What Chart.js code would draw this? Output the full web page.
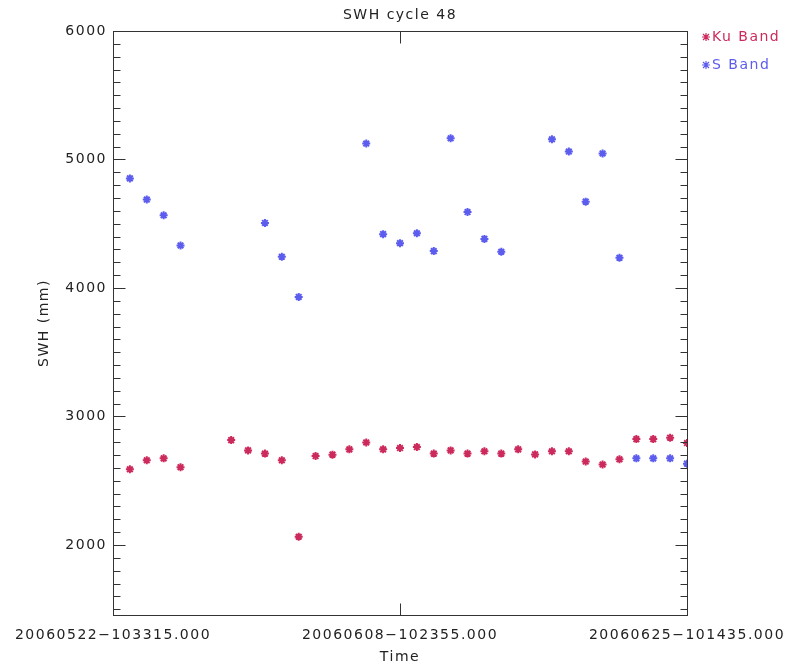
<!DOCTYPE html>
<html>
<head>
<meta charset="utf-8">
<script src="https://cdn.jsdelivr.net/npm/chart.js@4/dist/chart.umd.min.js"></script>
<style>
  html, body { margin: 0; padding: 0; background: #fff; }
  #wrap { width: 791px; height: 666px; }
</style>
</head>
<body>
<div id="wrap"><canvas id="grafico" width="791" height="666"></canvas></div>
<script>
// days since 20060522-103315
const kuDays = [1, 2, 3, 4, 7, 8, 9, 10, 11, 12, 13, 14, 15, 16, 17, 18, 19, 20, 21, 22, 23, 24, 25, 26, 27, 28, 29, 30, 31, 32, 33, 34];
const kuSwh  = [2589, 2659, 2674, 2605, 2816, 2736, 2711, 2659, 2064, 2692, 2703, 2744, 2798, 2744, 2754, 2762,
                2711, 2736, 2711, 2729, 2711, 2744, 2705, 2729, 2729, 2649, 2626, 2667, 2824, 2824, 2835, 2793];
const sDays  = [1, 2, 3, 4, 9, 10, 11, 15, 16, 17, 18, 19, 20, 21, 22, 23, 26, 27, 28, 29, 30, 31, 32, 33, 34];
const sSwh   = [4853, 4688, 4566, 4331, 4506, 4243, 3930, 5124, 4419, 4349, 4426, 4287, 5165, 4591, 4382, 4282,
                5157, 5062, 4672, 5047, 4235, 2674, 2674, 2674, 2633];
const timeTicks  = [0, 17, 34];
const timeLabels = ['20060522\u2212103315.000', '20060608\u2212102355.000', '20060625\u2212101435.000'];
const swhTicks   = [2000, 3000, 4000, 5000, 6000];
const seriesNames = ['Ku Band', 'S Band'];
const chartTitle = 'SWH cycle 48';

const KU_COLOR = '#cc2a5c';
const S_COLOR  = '#5c5cee';
const TEXT = '#222';
const FONT = 'DejaVu Sans';

const toPoints = (xs, ys) => xs.map((x, i) => ({ x, y: ys[i] }));

const spacing = {
  id: 'spacing',
  beforeDraw(chart) { chart.ctx.letterSpacing = '1.5px'; },
  afterDraw(chart) { chart.ctx.letterSpacing = '0px'; }
};

// IDL style box with inward ticks, title centred on the plot box
const frame = {
  id: 'frame',
  afterDatasetsDraw(chart) {
    const { ctx, chartArea, scales } = chart;
    const l = Math.round(chartArea.left) + 0.5, r = Math.round(chartArea.right) + 0.5;
    const t = Math.round(chartArea.top) + 0.5, b = Math.round(chartArea.bottom) + 0.5;
    ctx.save();
    ctx.strokeStyle = '#333';
    ctx.lineWidth = 1;
    ctx.strokeRect(l, t, r - l, b - t);
    ctx.beginPath();
    for (let v = 1500; v <= 6000; v += 100) {
      const y = Math.round(scales.y.getPixelForValue(v)) + 0.5;
      const len = v % 1000 === 0 ? 12 : 7;
      ctx.moveTo(l, y); ctx.lineTo(l + len, y);
      ctx.moveTo(r, y); ctx.lineTo(r - len, y);
    }
    timeTicks.forEach(d => {
      const x = Math.round(scales.x.getPixelForValue(d)) + 0.5;
      ctx.moveTo(x, t); ctx.lineTo(x, t + 12);
      ctx.moveTo(x, b); ctx.lineTo(x, b - 12);
    });
    ctx.stroke();

    ctx.letterSpacing = '1.5px';
    ctx.font = '14px ' + FONT;
    ctx.fillStyle = TEXT;
    ctx.textAlign = 'center';
    ctx.textBaseline = 'middle';
    ctx.fillText(chartTitle, (chartArea.left + chartArea.right) / 2, 15);
    ctx.restore();
  }
};

const legendIdl = {
  id: 'legendIdl',
  afterDraw(chart) {
    const { ctx } = chart;
    ctx.save();
    ctx.letterSpacing = '1.5px';
    ctx.font = '14px ' + FONT;
    ctx.textBaseline = 'middle';
    chart.data.datasets.forEach((ds, i) => {
      const y = 37 + i * 28;
      ctx.strokeStyle = ds.borderColor;
      ctx.lineWidth = 1.2;
      ctx.beginPath();
      ctx.moveTo(702, y); ctx.lineTo(710, y);
      ctx.moveTo(706, y - 4); ctx.lineTo(706, y + 4);
      ctx.moveTo(703, y - 3); ctx.lineTo(709, y + 3);
      ctx.moveTo(709, y - 3); ctx.lineTo(703, y + 3);
      ctx.stroke();
      ctx.fillStyle = ds.borderColor;
      ctx.fillText(ds.label, 712, y);
    });
    ctx.restore();
  }
};

const mark = color => ({
  pointStyle: 'star',
  pointRadius: 4,
  pointHoverRadius: 4,
  borderWidth: 2,
  borderColor: color,
  backgroundColor: color,
  showLine: false,
  clip: 0,
});

new Chart(document.getElementById('grafico'), {
  type: 'scatter',
  data: {
    datasets: [
      { label: seriesNames[0], data: toPoints(kuDays, kuSwh), ...mark(KU_COLOR) },
      { label: seriesNames[1], data: toPoints(sDays, sSwh), ...mark(S_COLOR) },
    ]
  },
  plugins: [spacing, frame, legendIdl],
  options: {
    responsive: false,
    animation: false,
    events: [],
    layout: { padding: { left: 0, right: 104, top: 31, bottom: 0 } },
    plugins: {
      legend: { display: false },
      tooltip: { enabled: false },
      title: { display: false },
    },
    scales: {
      x: {
        type: 'linear',
        min: 0,
        max: 34,
        afterBuildTicks(scale) { scale.ticks = timeTicks.map(v => ({ value: v })); },
        afterFit(scale) { scale.height = 51; },
        grid: { display: false, drawTicks: false },
        border: { display: false },
        ticks: {
          color: TEXT,
          font: { family: FONT, size: 14 },
          padding: 12,
          maxRotation: 0,
          autoSkip: false,
          callback: (v) => timeLabels[timeTicks.indexOf(v)],
        },
        title: {
          display: true,
          text: 'Time',
          color: TEXT,
          font: { family: FONT, size: 14 },
          padding: { top: 0, bottom: 0 },
        },
      },
      y: {
        min: 1455,
        max: 6000,
        afterBuildTicks(scale) { scale.ticks = swhTicks.map(v => ({ value: v })); },
        afterFit(scale) { scale.width = 113; },
        grid: { display: false, drawTicks: false },
        border: { display: false },
        ticks: {
          color: TEXT,
          font: { family: FONT, size: 14 },
          padding: 6,
          callback: v => String(v),
        },
        title: {
          display: true,
          text: 'SWH (mm)',
          color: TEXT,
          font: { family: FONT, size: 14 },
          padding: { top: 36, bottom: 0 },
        },
      },
    },
  },
});
</script>
</body>
</html>
